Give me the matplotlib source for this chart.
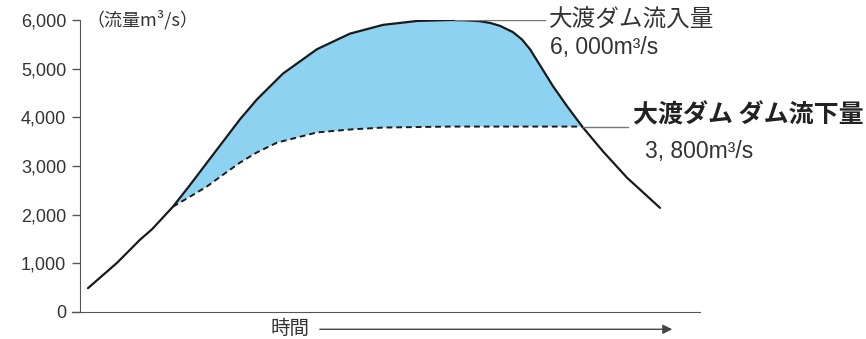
import numpy as np
import matplotlib.pyplot as plt

plt.rcParams['font.family'] = ['Noto Sans CJK JP', 'DejaVu Sans']

# time (arbitrary units) and flow (m3/s)
inflow_t = [8, 37, 60, 72, 93, 110, 127, 160, 177, 203, 237, 270, 303, 337,
            370, 385, 400, 410, 420, 433, 442, 450, 460, 473, 487, 503, 523, 547, 580]
inflow_q = [490, 1010, 1485, 1700, 2165, 2610, 3070, 3960, 4370, 4900, 5400, 5720,
            5900, 5980, 6000, 5995, 5975, 5940, 5880, 5750, 5600, 5400, 5070, 4640,
            4230, 3790, 3300, 2760, 2140]
outflow_t = [93, 110, 127, 143, 160, 177, 197, 237, 270, 303, 370, 503]
outflow_q = [2165, 2370, 2580, 2820, 3070, 3280, 3480, 3690, 3750, 3790, 3810, 3810]

yticks = [0, 1000, 2000, 3000, 4000, 5000, 6000]
ytick_labels = ['0', '1,000', '2,000', '3,000', '4,000', '5,000', '6,000']

fig = plt.figure(figsize=(8.66, 3.39), dpi=100)
ax = fig.add_axes([72 / 866, 1 - 312 / 339, 628 / 866, 292 / 339])

it = np.array(inflow_t)
iq = np.array(inflow_q)
sel = (it >= outflow_t[0]) & (it <= outflow_t[-1])
poly_t = np.concatenate([it[sel], outflow_t[::-1]])
poly_q = np.concatenate([iq[sel], outflow_q[::-1]])
ax.fill(poly_t, poly_q, color='#8dd3f1', lw=0)

ax.plot(inflow_t, inflow_q, color='#1a1a1a', lw=1.6, solid_capstyle='round',
        solid_joinstyle='round')
ax.plot(outflow_t, outflow_q, color='#1a1a1a', lw=1.4, ls=(0, (3, 2)))

ax.set_xlim(-8, 620)
ax.set_ylim(0, 6000)
ax.spines['left'].set_position(('data', 0))
for s in ['top', 'right']:
    ax.spines[s].set_visible(False)
ax.spines['left'].set_color('#555555')
ax.spines['bottom'].set_color('#555555')
ax.set_xticks([])
ax.set_yticks(yticks)
ax.set_yticklabels(ytick_labels, family='Liberation Sans', fontsize=13, color='#333333')
ax.tick_params(axis='y', length=6, width=1, color='#555555', pad=4)

ax.text(6, 6000, '（流量m³/s）', fontsize=13, color='#333333', va='center', ha='left')

# leader lines and labels
ax.plot([375, 465], [6000, 6000], color='#777777', lw=1)
ax.text(469, 5990, '大渡ダム流入量', fontsize=17, color='#333333', va='center', ha='left')
ax.text(470, 5430, '6, 000m³/s', family='Liberation Sans', fontsize=16.5,
        color='#333333', va='center', ha='left')

ax.plot([503, 548], [3810, 3810], color='#777777', lw=1)
ax.text(553, 4040, '大渡ダム ダム流下量', fontsize=18, fontweight='bold', color='#222222',
        va='center', ha='left', clip_on=False)
ax.text(565, 3300, '3, 800m³/s', family='Liberation Sans', fontsize=16.5,
        color='#333333', va='center', ha='left', clip_on=False)

# time axis label with arrow
ax.text(191, -330, '時間', fontsize=14, color='#333333', va='center', ha='left',
        clip_on=False)
ax.annotate('', xy=(595, -355), xytext=(237, -355), xycoords='data',
            arrowprops=dict(arrowstyle='-|>', color='#444444', lw=1,
                            mutation_scale=14), annotation_clip=False)

fig.savefig('out.png', dpi=100)
